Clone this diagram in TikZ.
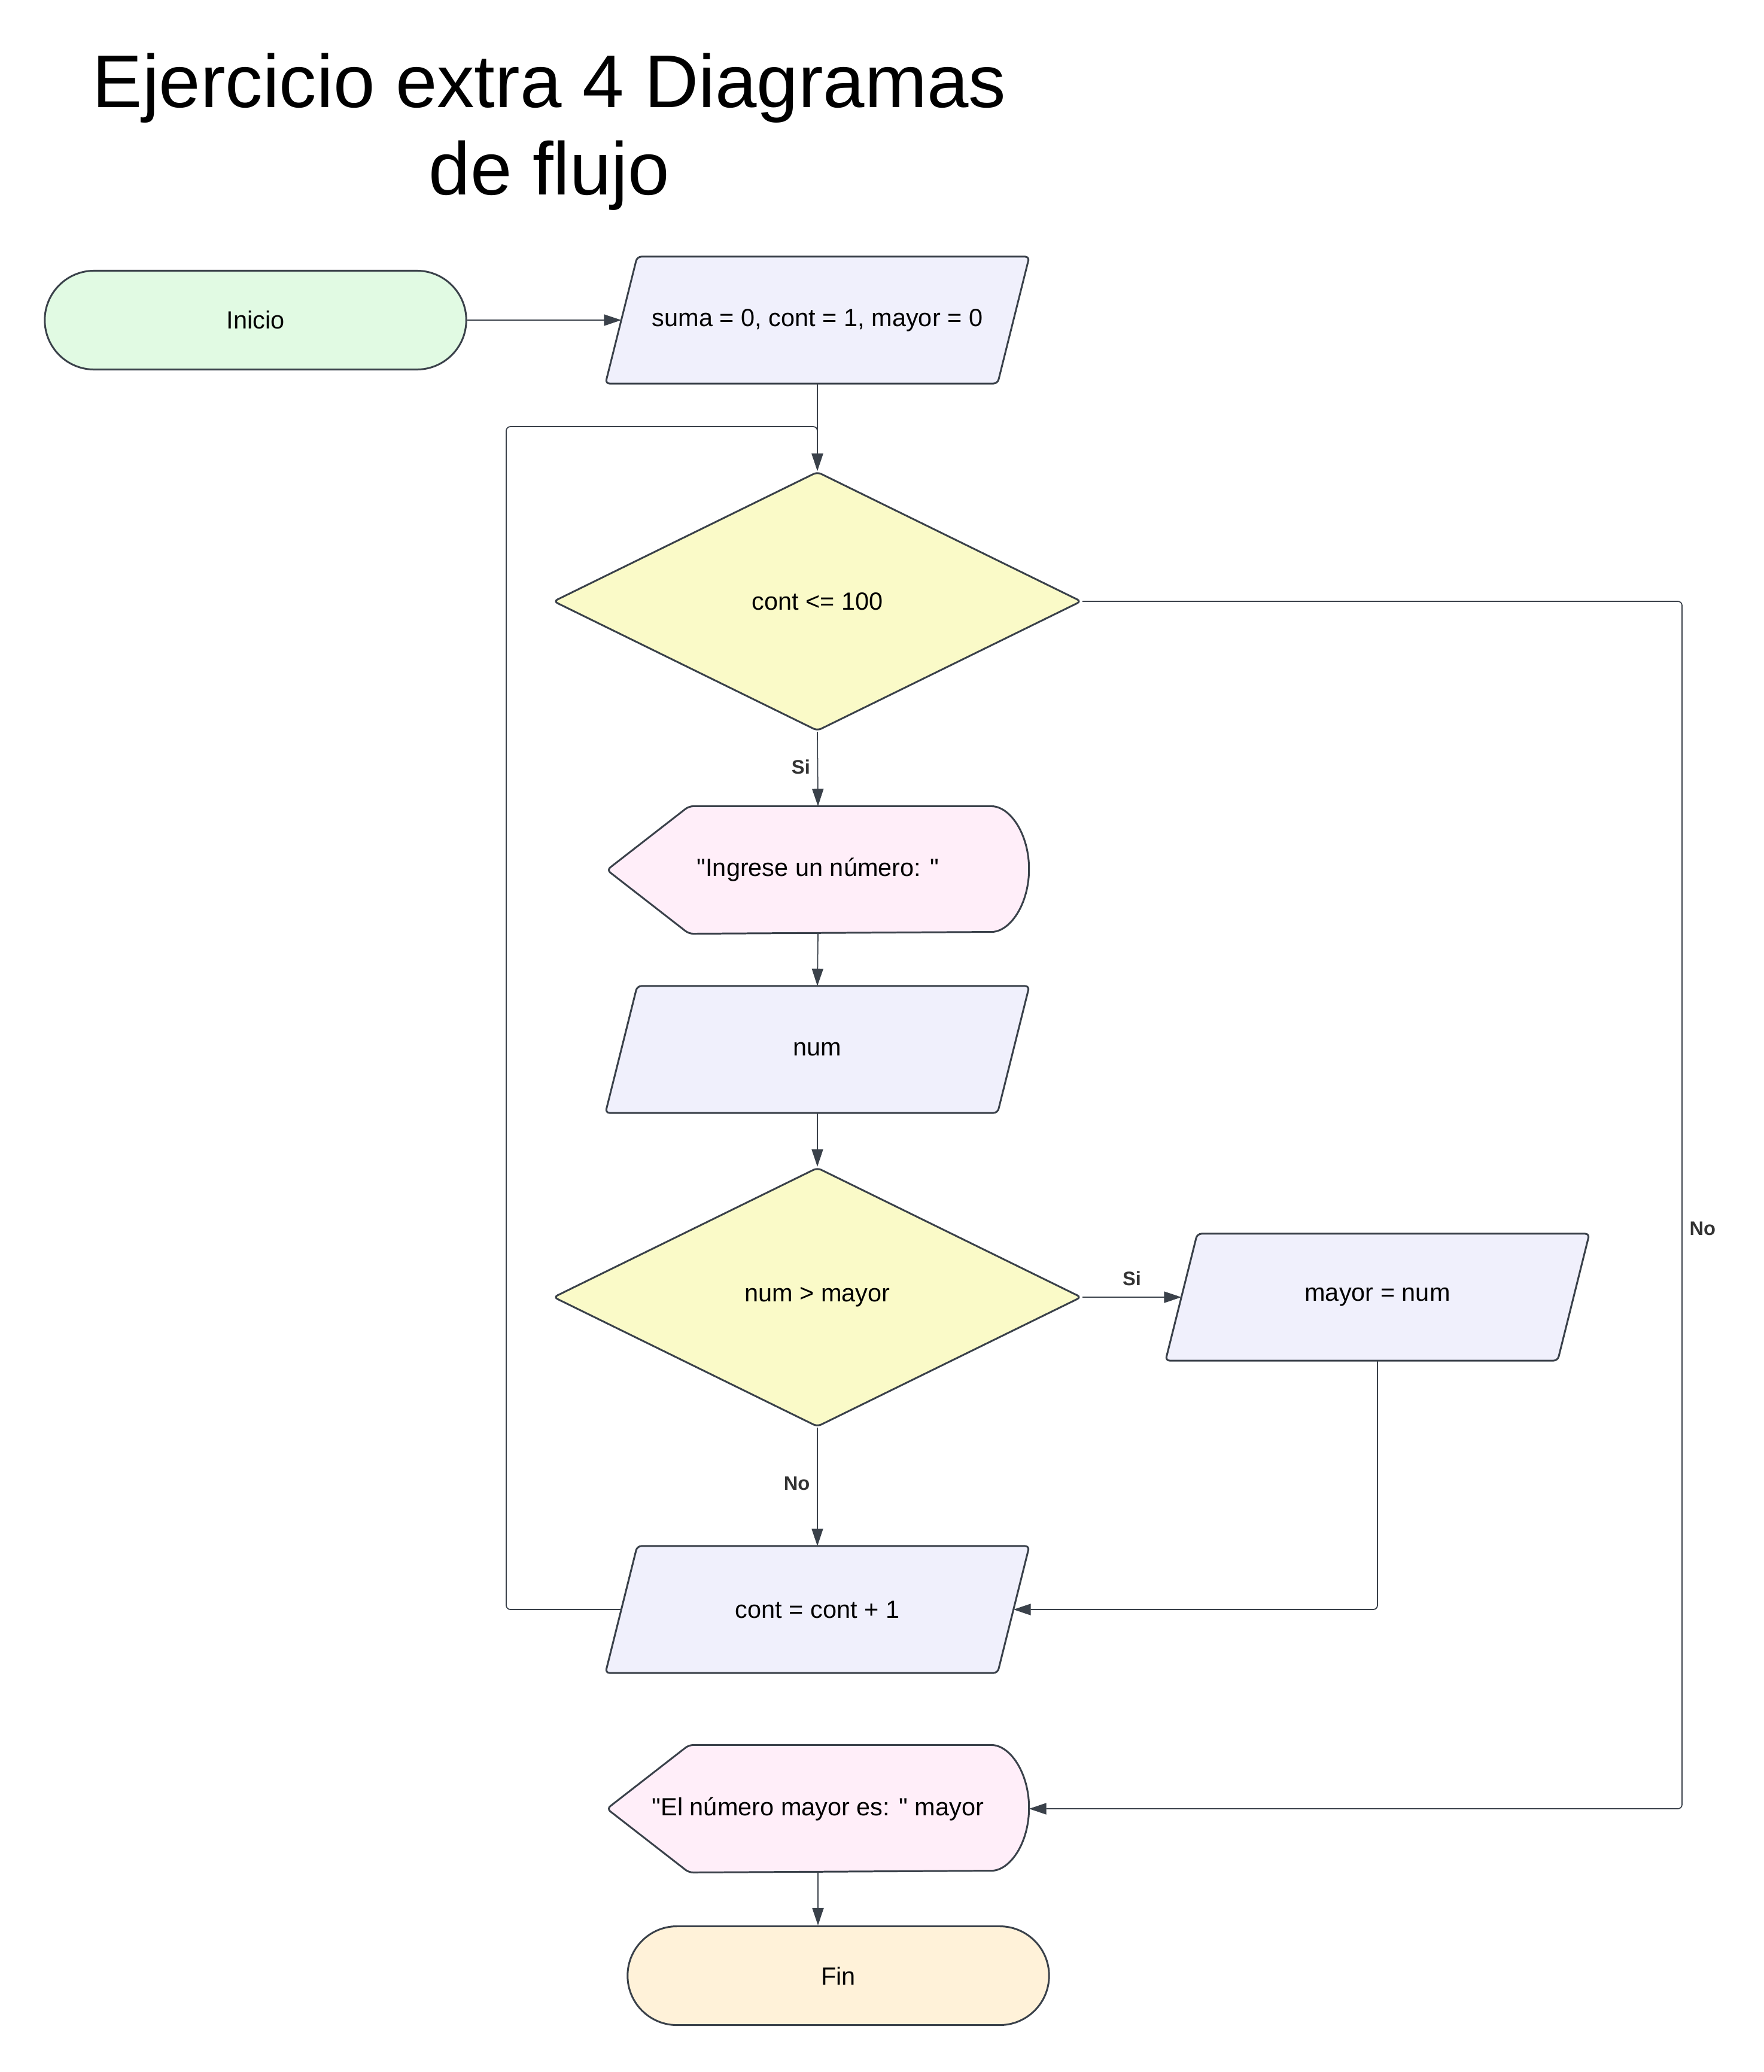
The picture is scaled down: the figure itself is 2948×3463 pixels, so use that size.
\documentclass[tikz,border=0pt]{standalone}
\usepackage{fontspec}
\setmainfont{Liberation Sans}[Ligatures=TeXOff]
\usetikzlibrary{shapes.geometric,shapes.misc,arrows.meta,backgrounds}

\definecolor{borde}{HTML}{3A414A}
\definecolor{verdeinicio}{HTML}{E1FAE3}
\definecolor{lila}{HTML}{F0F0FC}
\definecolor{amarillo}{HTML}{FAFAC8}
\definecolor{rosa}{HTML}{FFEEF9}
\definecolor{crema}{HTML}{FFF2D9}
\definecolor{gristexto}{HTML}{333333}

\begin{document}
\begin{tikzpicture}[x=0.01cm, y=-0.01cm,
  forma/.style={draw=borde, line width=0.85pt, font=\fontsize{11.8}{14}\selectfont, inner sep=0pt},
  terminal/.style={forma, rounded rectangle, minimum width=7.04cm, minimum height=1.65cm},
  datos/.style={forma, draw=none, rectangle, minimum width=7.05cm, minimum height=2.09cm},
  decision/.style={forma, diamond, minimum width=8.82cm, minimum height=4.33cm, fill=amarillo, rounded corners=2pt},
  pantalla/.style={forma, draw=none, rectangle, minimum width=7.02cm, minimum height=2.1cm},
  contorno/.style={draw=borde, line width=0.85pt, rounded corners=2pt},
  linea/.style={draw=borde, line width=0.5pt, rounded corners=2pt},
  flecha/.style={linea, -{Triangle[length=0.29cm, width=0.19cm]}},
  etiqueta/.style={font=\fontsize{9.3}{11}\selectfont\bfseries, text=gristexto}
]
\useasboundingbox (0,0) rectangle (2948,3463);

\node[align=center, font=\fontsize{35.5}{41.5}\selectfont] (titulo) at (918,220) {Ejercicio extra 4 Diagramas\\de flujo};

\node[terminal, fill=verdeinicio] (inicio) at (427,535) {Inicio};
\node[datos] (suma) at (1366,535) {suma = 0, cont = 1, mayor = 0};
\node[decision] (cond1) at (1366,1005) {cont <= 100};
\node[pantalla] (ingrese) at (1367,1454) {"Ingrese un número: "};
\node[datos] (num) at (1366,1754) {num};
\node[decision] (cond2) at (1366,2168) {num > mayor};
\node[datos] (mayor) at (2302,2168) {mayor = num};
\node[datos] (incr) at (1366,2690) {cont = cont + 1};
\node[pantalla] (salida) at (1367,3023) {"El número mayor es: " mayor};
\node[terminal, fill=crema] (fin) at (1401,3302) {Fin};

% paralelogramos y pantallas
\begin{scope}[on background layer]
\foreach \n in {suma, num, mayor, incr}
  \draw[contorno, fill=lila] (\n.south west) -- ([xshift=0.53cm]\n.north west) -- (\n.north east)
    -- ([xshift=-0.53cm]\n.south east) -- cycle;
\foreach \n in {ingrese, salida}
  \draw[contorno, fill=rosa] (\n.west) -- ([xshift=1.37cm]\n.north west) -- ([xshift=-0.7cm]\n.north east)
    arc[start angle=90, end angle=-90, x radius=0.7cm, y radius=1.05cm] -- ([xshift=1.37cm]\n.south west) -- cycle;
\end{scope}

\coordinate (vuelta) at (846,713);
\coordinate (derechaNo) at (2811,2053);

\draw[flecha] (inicio.east) -- ([xshift=0.265cm]suma.west);
\draw[flecha] (suma.south) -- (cond1.north);
\draw[flecha] ([xshift=0.265cm]incr.west) -| (vuelta) -| (cond1.north);
\draw[flecha] (cond1.south) -- node[etiqueta, left, pos=0.47] (si1) {Si} (ingrese.north);
\draw[flecha] (ingrese.south) -- (num.north);
\draw[flecha] (num.south) -- (cond2.north);
\draw[flecha] (cond2.east) -- node[etiqueta, above=2pt] (si2) {Si} ([xshift=0.265cm]mayor.west);
\draw[flecha] (cond2.south) -- node[etiqueta, left, pos=0.47] (no2) {No} (incr.north);
\draw[flecha] (mayor.south) |- ([xshift=-0.265cm]incr.east);
\draw[flecha] (cond1.east) -| (derechaNo) node[etiqueta, right] (no1) {No} |- (salida.east);
\draw[flecha] (salida.south) -- (salida.south |- fin.north);

\end{tikzpicture}
\end{document}
